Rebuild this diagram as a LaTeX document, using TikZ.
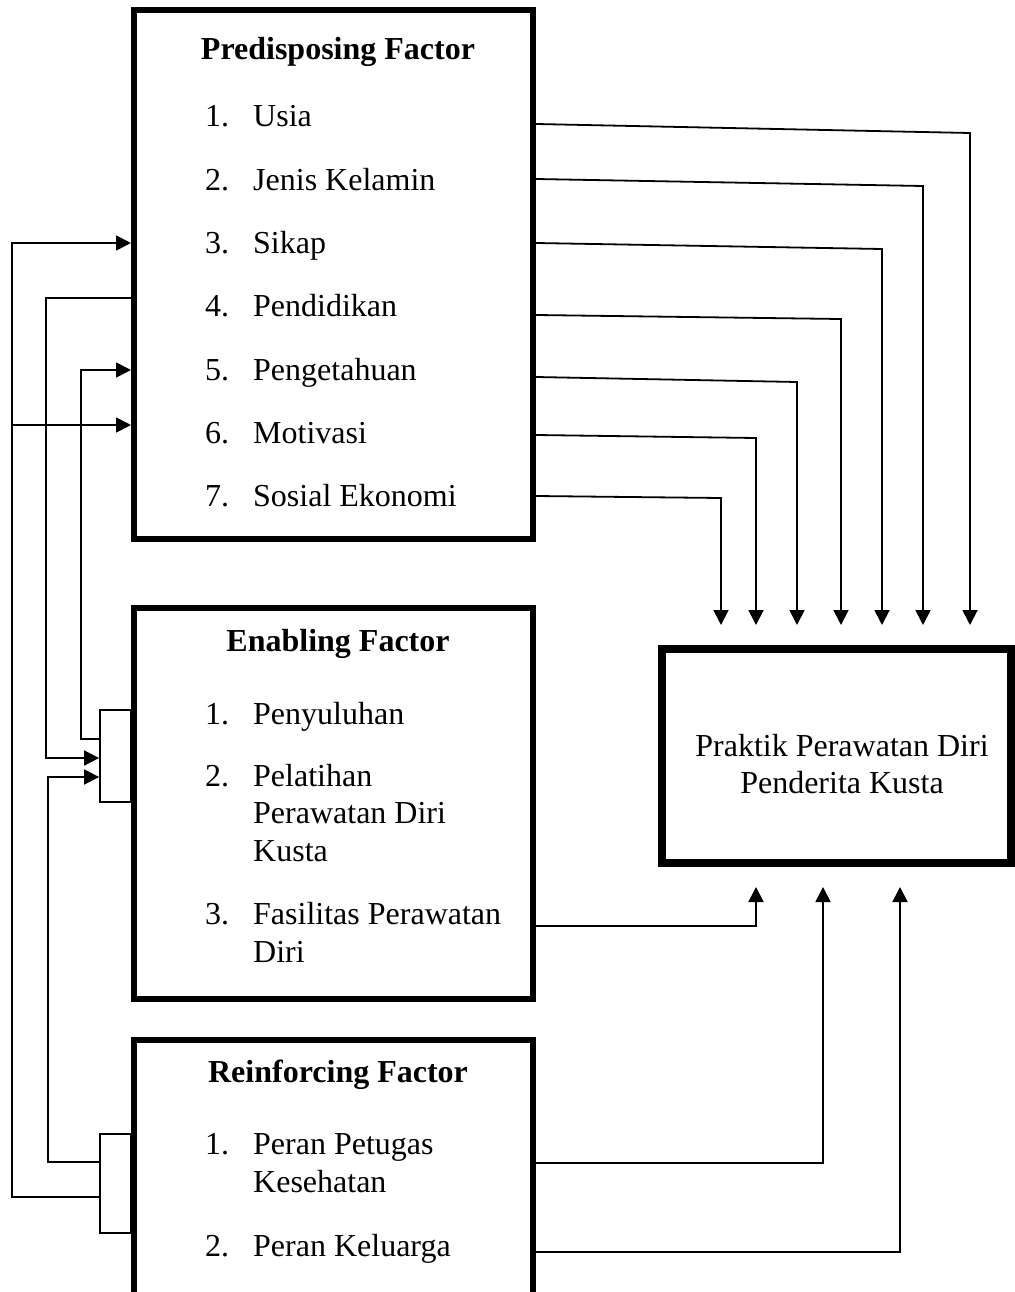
\documentclass[tikz,border=0pt]{standalone}
\usepackage{fontspec}
\setmainfont{Liberation Serif}
\usetikzlibrary{arrows.meta, positioning}

\begin{document}
\begin{tikzpicture}[
  x=1pt, y=-1pt,
  fbox/.style={draw, line width=6pt, minimum width=399pt, inner sep=0pt},
  obox/.style={draw, line width=8pt, inner sep=0pt},
  brk/.style={draw, line width=1.8pt, minimum width=31pt, inner sep=0pt},
  head/.style={font=\fontsize{32}{37.5}\selectfont\bfseries, anchor=base, inner sep=0pt},
  num/.style={font=\fontsize{32}{37.5}\selectfont, anchor=base west, inner sep=0pt},
  item/.style={font=\fontsize{32}{37.5}\selectfont, anchor=base west, inner sep=0pt, align=left},
  arr/.style={line width=1.8pt, -{Triangle[length=15pt,width=15pt]}}
]
  \fill[white] (0,0) rectangle (1014,1292);
  \useasboundingbox (0,0) rectangle (1014,1292);

  % the four boxes
  \node[fbox, minimum height=529pt] (pre) at (333.5,274.5) {};
  \node[fbox, minimum height=391pt] (ena) at (333.5,803.5) {};
  \node[fbox, minimum height=280pt] (rei) at (333.5,1180) {};
  \node[obox, minimum width=349pt, minimum height=214pt] (prak) at (836.5,756) {};

  % small brackets on the left
  \node[brk, minimum height=92pt] (eb) at (115.5,756) {};
  \node[brk, minimum height=99pt] (rb) at (115.5,1183.5) {};

  % titles
  \node[head] (preT) at (338,60) {Predisposing Factor};
  \node[head] (enaT) at (338,651) {Enabling Factor};
  \node[head] (reiT) at (338,1082) {Reinforcing Factor};

  % items (\y = first baseline, \z = last baseline)
  \foreach \n/\y/\t in {1/127/Usia, 2/190/Jenis Kelamin, 3/253/Sikap, 4/316/Pendidikan,
                        5/380/Pengetahuan, 6/443/Motivasi, 7/506/Sosial Ekonomi} {
    \node[num] (pn\n) at (205,\y) {\n.};
    \node[item] (pi\n) at (253,\y) {\t};
  }
  \foreach \n/\y/\z/\t in {1/724/724/Penyuluhan, 2/786/861/{Pelatihan\\Perawatan Diri\\Kusta},
                           3/924.5/962/{Fasilitas Perawatan\\Diri}} {
    \node[num] (en\n) at (205,\y) {\n.};
    \node[item] (ei\n) at (253,\z) {\t};
  }
  \foreach \n/\y/\z/\t in {1/1154.5/1192/{Peran Petugas\\Kesehatan}, 2/1256/1256/Peran Keluarga} {
    \node[num] (rn\n) at (205,\y) {\n.};
    \node[item] (ri\n) at (253,\z) {\t};
  }

  \node[font=\fontsize{32}{37.5}\selectfont, align=center, inner sep=0pt] (prakT) at (842,764)
    {Praktik Perawatan Diri\\Penderita Kusta};

  % arrows into the practice box
  \foreach \n/\x in {1/970, 2/923, 3/882, 4/841, 5/797, 6/756, 7/721}
    \coordinate (d\n) at (\x,625);
  \foreach \n/\s/\e in {1/124/133, 2/179/186, 3/243/249, 4/315/319,
                        5/377/382, 6/435/438, 7/496/498}
    \draw[arr] (pre.east |- 0,\s) -- (d\n |- 0,\e) -- (d\n);

  \coordinate (u1) at (756,887);
  \coordinate (u2) at (823,887);
  \coordinate (u3) at (900,887);
  \draw[arr] (ena.east |- 0,926) -| (u1);
  \draw[arr] (rei.east |- 0,1163) -| (u2);
  \draw[arr] (rei.east |- 0,1252) -| (u3);

  % feedback lines on the left
  \coordinate (bus) at (12,243);
  \draw[arr] (rb.west |- 0,1197) -| (bus) -- (pre.west |- bus);
  \draw[arr] (bus |- 0,425) -- (pre.west |- 0,425);
  \draw[arr] (pre.west |- 0,298) -| (46,758) -- (eb.west |- 0,758);
  \draw[arr] (eb.west |- 0,739) -| (81,370) -- (pre.west |- 0,370);
  \draw[arr] (rb.west |- 0,1162) -| (48,777) -- (eb.west |- 0,777);
\end{tikzpicture}
\end{document}
